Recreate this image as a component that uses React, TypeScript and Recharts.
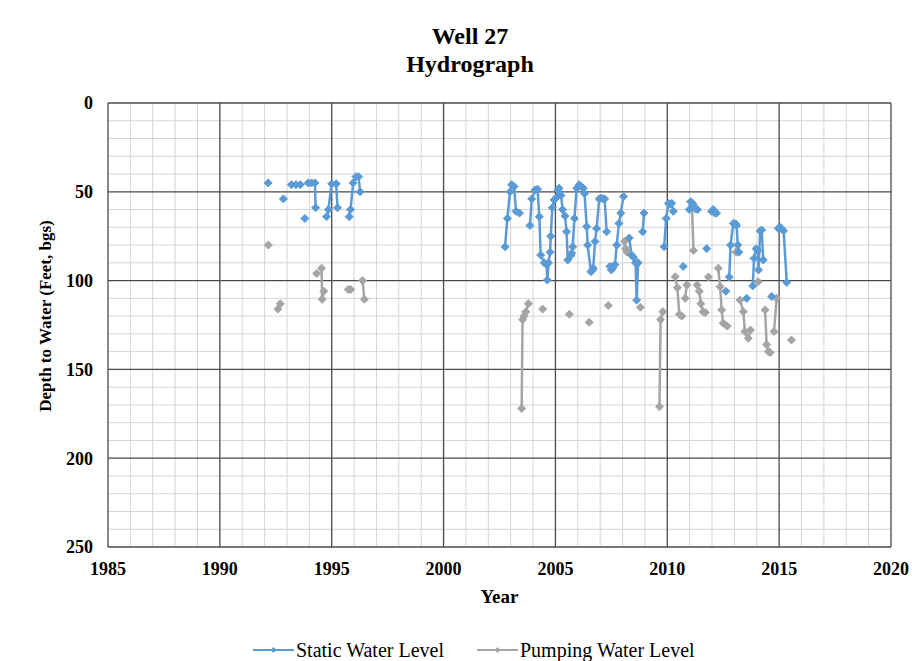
import { LineChart, Line, XAxis, YAxis, ReferenceLine } from 'recharts';

// null marks a break in the line (empty cell in the source sheet)
const staticYears = [
  1992.16, null, 1992.84, null, 1993.2, 1993.4, 1993.6, null, 1993.8, null,
  1993.95, 1994.1, 1994.25, 1994.28, null,
  1994.77, 1994.85, 1995.0, 1995.2, 1995.26, null,
  1995.78, 1995.84, 1995.96, 1996.08, 1996.2, 1996.27, null,
  2002.75, 2002.85, 2002.97, 2003.04, 2003.15, 2003.24, 2003.39, null,
  2003.86, 2003.94, 2004.09, 2004.2, 2004.28, 2004.34, 2004.5, 2004.6, 2004.64, 2004.69,
  2004.76, 2004.79, 2004.86, 2004.94, 2005.06, 2005.12, 2005.16, 2005.25, 2005.32, 2005.43,
  2005.5, 2005.55, 2005.68, 2005.73, 2005.77, 2005.85, 2005.95, 2006.06, 2006.15, 2006.25,
  2006.3, 2006.4, 2006.44, 2006.59, 2006.66, 2006.69, 2006.77, 2006.84, 2006.96, 2007.05,
  2007.12, 2007.2, 2007.29, null,
  2007.44, 2007.5, 2007.56, 2007.66, 2007.74, 2007.84, 2007.92, 2008.04, null,
  2008.3, 2008.4, 2008.5, 2008.58, 2008.63, 2008.7, null,
  2008.9, 2008.96, null,
  2009.86, 2009.95, 2010.05, 2010.12, 2010.2, 2010.27, null,
  2010.71, null,
  2010.98, 2011.04, 2011.15, 2011.25, 2011.35, null,
  2011.76, null,
  2011.98, 2012.05, 2012.12, 2012.2, null,
  2012.62, null,
  2012.77, 2012.83, 2012.95, 2013.05, 2013.1, 2013.15, 2013.2, null,
  2013.55, null,
  2013.82, 2013.88, 2013.97, 2014.05, 2014.08, 2014.15, 2014.22, 2014.29, null,
  2014.67, null,
  2014.96, 2015.05, 2015.1, 2015.2, 2015.34,
];
const staticDepths = [
  45, null, 54, null, 46, 46, 46, null, 65, null,
  45, 45, 45, 59, null,
  64, 60, 45.5, 45.5, 59, null,
  64, 60, 45, 41.5, 41.5, 50, null,
  81, 65, 50, 46, 47, 61, 62, null,
  69, 54, 49, 48.5, 64, 85.6, 90, 91, 99.7, 90,
  84, 75, 59, 54.6, 53, 49, 48, 52, 60, 63.6,
  72.5, 88.4, 86, 84.6, 81, 65, 48, 46, 47, 48,
  51, 69.6, 80, 95, 94, 93, 78, 70.6, 54, 53.5,
  54, 54, 72.5, null,
  92, 94, 93, 91, 80, 67.8, 62, 52.7, null,
  76, 85.6, 87, 90, 111, 90, null,
  72.5, 62, null,
  81, 65, 56.5, 57, 56.5, 61, null,
  92, null,
  60, 55.6, 57, 59.5, 60, null,
  82, null,
  61, 60, 62, 62, null,
  106, null,
  98, 80, 67.8, 68, 69, 80, 84, null,
  110, null,
  103, 87.5, 82, 83, 94, 72, 71.5, 88.4, null,
  109, null,
  70.6, 70, 70.6, 72, 101,
];

const pumpingYears = [
  1992.17, null, 1992.6, 1992.7, null, 1994.33, null, 1994.55, 1994.57, 1994.65, null,
  1995.74, 1995.85, null, 1996.38, 1996.46, null,
  2003.49, 2003.53, 2003.6, 2003.68, 2003.79, null,
  2004.43, null, 2005.62, null, 2006.51, null, 2007.36, null,
  2008.08, 2008.14, 2008.2, null, 2008.8, null,
  2009.65, 2009.7, 2009.8, null,
  2010.35, 2010.45, 2010.54, 2010.65, null,
  2010.8, 2010.87, null,
  2011.1, 2011.17, null,
  2011.34, 2011.43, 2011.5, 2011.6, 2011.7, null,
  2011.84, null,
  2012.28, 2012.36, 2012.43, 2012.5, 2012.68, null,
  2013.07, null,
  2013.25, 2013.4, 2013.47, 2013.62, 2013.72, null,
  2014.06, null,
  2014.37, 2014.44, 2014.52, 2014.6, null,
  2014.77, 2014.89, null,
  2015.55,
];
const pumpingDepths = [
  80, null, 116, 113, null, 96, null, 93, 110.5, 106, null,
  105, 105, null, 100, 110.5, null,
  172, 122, 120, 117.5, 113, null,
  116, null, 119, null, 123.5, null, 114, null,
  78, 82, 84, null, 115, null,
  171, 122, 117.5, null,
  97.8, 104, 119, 120, null,
  110, 102.5, null,
  56, 83, null,
  102.5, 106, 113, 117.5, 118, null,
  98, null,
  93, 103.4, 116.5, 124, 125.6, null,
  84, null,
  111, 117.5, 128.7, 132.5, 127.8, null,
  100.6, null,
  116.5, 136, 140, 140.5, null,
  128.7, 110, null,
  133.5,
];

const xTicks = [1985, 1990, 1995, 2000, 2005, 2010, 2015, 2020];
const yTicks = [0, 50, 100, 150, 200, 250];

const BLUE = '#5b9bd5';
const GRAY = '#a5a5a5';

function build(years: (number | null)[], depths: (number | null)[]) {
  let last = years.find((y) => y != null) as number;
  return years.map((y, i) => {
    if (y != null) last = y;
    return { year: y ?? last, depth: depths[i] };
  });
}

const staticData = build(staticYears, staticDepths);
const pumpingData = build(pumpingYears, pumpingDepths);

const minorYears = Array.from({ length: 36 }, (_, i) => 1985 + i);
const minorDepths = Array.from({ length: 26 }, (_, i) => i * 10);

const diamond = (color: string) => (props: any) => {
  const { cx, cy, index } = props;
  if (cy == null || cx == null || props.value == null) return <g key={index} />;
  return (
    <path
      key={index}
      d={`M${cx},${cy - 4}L${cx + 4},${cy}L${cx},${cy + 4}L${cx - 4},${cy}Z`}
      fill={color}
      stroke={color}
    />
  );
};

const tickStyle = { fontFamily: 'Liberation Serif', fontWeight: 'bold', fontSize: 18, fill: '#000' };

function LegendItem({ color, label, left }: { color: string; label: string; left: number }) {
  return (
    <div style={{ position: 'absolute', left, top: 638, display: 'flex', alignItems: 'center' }}>
      <svg width={43} height={24}>
        <line x1={1} y1={12} x2={42} y2={12} stroke={color} strokeWidth={2} />
        <path d="M21.5,9L24.5,12L21.5,15L18.5,12Z" fill={color} />
      </svg>
      <span style={{ fontSize: 20, marginLeft: 1 }}>{label}</span>
    </div>
  );
}

export default function App() {
  return (
    <div
      style={{
        position: 'absolute',
        left: 0,
        top: 0,
        width: 912,
        height: 661,
        background: '#fff',
        fontFamily: 'Liberation Serif',
        color: '#000',
      }}
    >
      <div style={{ position: 'absolute', left: 0, width: 940, top: 22, textAlign: 'center', fontWeight: 'bold', fontSize: 24, lineHeight: '28px' }}>
        Well 27
        <br />
        Hydrograph
      </div>
      <LineChart width={912} height={661} margin={{ top: 103, right: 21, bottom: 84, left: 68 }}>
        <XAxis
          type="number"
          dataKey="year"
          domain={[1985, 2020]}
          ticks={xTicks}
          allowDataOverflow
          axisLine={false}
          tickLine={false}
          tickSize={0}
          tickMargin={15}
          height={30}
          tick={tickStyle}
        />
        <YAxis
          type="number"
          domain={[0, 250]}
          ticks={yTicks}
          reversed
          allowDataOverflow
          axisLine={false}
          tickLine={false}
          tickSize={0}
          tickMargin={15}
          width={40}
          tick={tickStyle}
        />
        {minorYears.filter((y) => y % 5 !== 0).map((y) => (
          <ReferenceLine key={`vx${y}`} x={y} stroke="#d4d4d4" strokeWidth={1} />
        ))}
        {minorDepths.filter((d) => d % 50 !== 0).map((d) => (
          <ReferenceLine key={`hy${d}`} y={d} stroke="#d4d4d4" strokeWidth={1} />
        ))}
        {xTicks.map((y) => (
          <ReferenceLine key={`VX${y}`} x={y} stroke="#4a4a4a" strokeWidth={1.3} />
        ))}
        {yTicks.map((d) => (
          <ReferenceLine key={`HY${d}`} y={d} stroke="#4a4a4a" strokeWidth={1.3} />
        ))}
        <Line
          data={pumpingData}
          dataKey="depth"
          name="Pumping Water Level"
          stroke={GRAY}
          strokeWidth={2.5}
          dot={diamond(GRAY)}
          activeDot={false}
          connectNulls={false}
          isAnimationActive={false}
        />
        <Line
          data={staticData}
          dataKey="depth"
          name="Static Water Level"
          stroke={BLUE}
          strokeWidth={2.5}
          dot={diamond(BLUE)}
          activeDot={false}
          connectNulls={false}
          isAnimationActive={false}
        />
      </LineChart>
      <div style={{ position: 'absolute', left: 108, width: 783, top: 586, textAlign: 'center', fontWeight: 'bold', fontSize: 19 }}>
        Year
      </div>
      <div
        style={{
          position: 'absolute',
          left: 46,
          top: 316,
          transform: 'translate(-50%, -50%) rotate(-90deg)',
          whiteSpace: 'nowrap',
          fontWeight: 'bold',
          fontSize: 17,
        }}
      >
        Depth to Water (Feet, bgs)
      </div>
      <LegendItem color={BLUE} label="Static Water Level" left={252} />
      <LegendItem color={GRAY} label="Pumping Water Level" left={476} />
    </div>
  );
}
